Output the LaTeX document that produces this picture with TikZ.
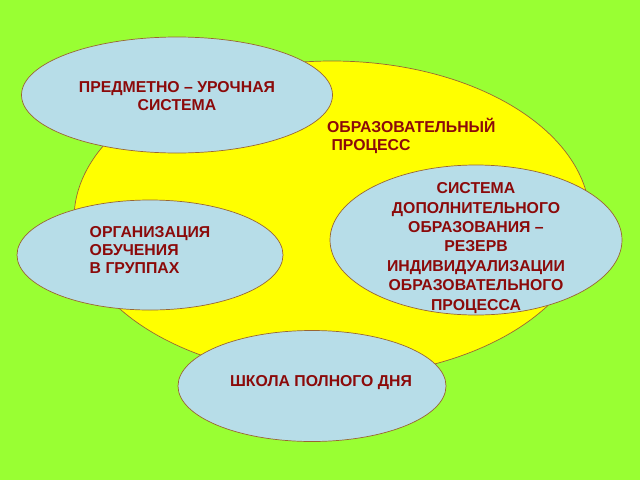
\documentclass[tikz,border=0pt]{standalone}
\usepackage{fontspec}
\setmainfont{Liberation Sans}
\usetikzlibrary{shapes.geometric,positioning}
\definecolor{lawn}{HTML}{99FF33}
\definecolor{sun}{HTML}{FFFF00}
\definecolor{sky}{HTML}{B7DDE8}
\definecolor{rim}{HTML}{996633}
\definecolor{ink}{HTML}{8B0A0A}
\tikzstyle{process}=[ellipse,draw=rim,fill=sun,line width=0.7pt,inner sep=0pt]
\tikzstyle{form}=[ellipse,draw=rim,fill=sky,line width=0.7pt,inner sep=0pt]
\tikzstyle{caption}=[text=ink,font=\bfseries\fontsize{15.8}{18}\selectfont,inner sep=0pt]

\begin{document}
\begin{tikzpicture}[x=1pt,y=-1pt]
    \fill[lawn] (0,0) rectangle (640,480);
    \useasboundingbox (0,0) rectangle (640,480);

    \node[process,minimum width=516pt,minimum height=316pt] (school) at (332,219) {};
    \node[caption,align=left,anchor=north west] (title) at (327,118) {ОБРАЗОВАТЕЛЬНЫЙ\\\ ПРОЦЕСС};

    \node[form,minimum width=311pt,minimum height=116pt] (lesson) at (177,95) {};
    \node[caption,align=center] (lessontext) at (177,96) {ПРЕДМЕТНО -- УРОЧНАЯ\\СИСТЕМА};

    \node[form,minimum width=292pt,minimum height=150pt] (extra) at (476,240) {};
    \node[caption,align=center,font=\bfseries\fontsize{15.8}{19.4}\selectfont] (extratext) at (476,248)
        {СИСТЕМА\\ДОПОЛНИТЕЛЬНОГО\\ОБРАЗОВАНИЯ --\\РЕЗЕРВ\\ИНДИВИДУАЛИЗАЦИИ\\ОБРАЗОВАТЕЛЬНОГО\\ПРОЦЕССА};

    \node[form,minimum width=266pt,minimum height=110pt] (groups) at (150,255) {};
    \node[caption,align=left] (groupstext) at (150,250) {ОРГАНИЗАЦИЯ\\ОБУЧЕНИЯ\\В ГРУППАХ};

    \node[form,minimum width=268pt,minimum height=111pt] (fullday) at (312,386) {};
    \node[caption] (fulldaytext) at (321,383) {ШКОЛА ПОЛНОГО ДНЯ};
\end{tikzpicture}
\end{document}
